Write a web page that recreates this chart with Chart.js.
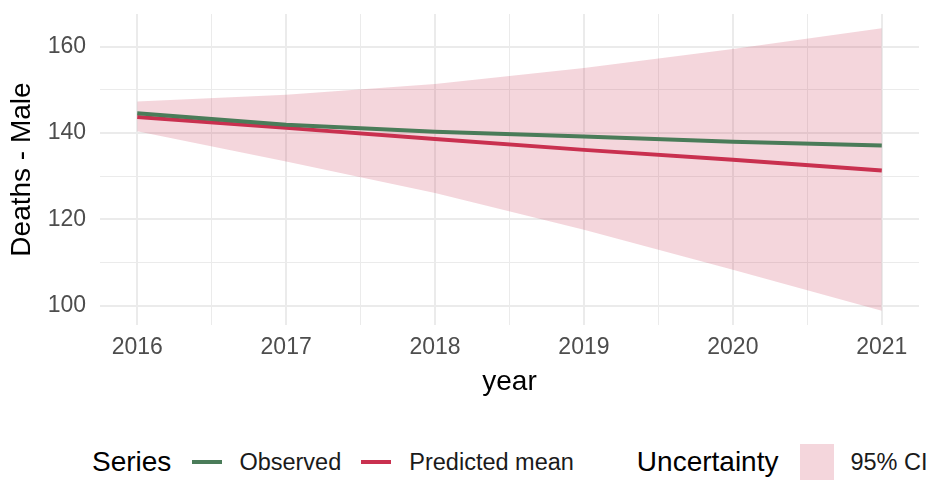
<!DOCTYPE html>
<html>
<head>
<meta charset="utf-8">
<script src="https://cdn.jsdelivr.net/npm/chart.js@4.4.0/dist/chart.umd.min.js"></script>
<style>
  body { margin: 0; background: #fff; font-family: "Liberation Sans", Arial, sans-serif; }
  #wrap { position: absolute; left: 0; top: 0; width: 933px; height: 405px; }
  #legend { position: absolute; left: 92px; top: 444px; height: 36px; display: flex; align-items: center; white-space: nowrap; }
  .ttl { font-size: 28px; color: #000; }
  .lbl { font-size: 23.5px; color: #1a1a1a; }
  .key { width: 30px; height: 4px; }
  .box { width: 34px; height: 36px; background: rgba(201, 48, 79, 0.2); }
</style>
</head>
<body>
<div id="wrap"><canvas id="chart"></canvas></div>
<div id="legend">
  <span class="ttl" style="margin-right:21px">Series</span>
  <span class="key" style="background:#4a7c59;margin-right:17px"></span>
  <span class="lbl" style="margin-right:20px">Observed</span>
  <span class="key" style="background:#c9304f;margin-right:18px"></span>
  <span class="lbl" style="margin-right:63px">Predicted mean</span>
  <span class="ttl" style="margin-right:22px">Uncertainty</span>
  <span class="box" style="margin-right:16px"></span>
  <span class="lbl">95% CI</span>
</div>
<script>
// --- data ---
const years = [2016, 2017, 2018, 2019, 2020, 2021];
const observed = [144.6, 141.9, 140.3, 139.2, 138.0, 137.1];
const predicted = [143.7, 141.2, 138.6, 136.1, 133.8, 131.3];
const ciLower = [140.4, 133.4, 126.1, 117.6, 108.3, 98.8];
const ciUpper = [147.3, 148.9, 151.4, 155.1, 159.5, 164.3];
const yTickLabels = [100, 120, 140, 160];
const yMinorTicks = [110, 130, 150];

const GREEN = "#4a7c59";
const RED = "#c9304f";
const CI_FILL = "rgba(201, 48, 79, 0.2)";
const GRID = "#ebebeb";

const pts = (ys) => years.map((x, i) => ({ x: x, y: ys[i] }));

// major grid at each year, minor grid halfway between
const xGrid = [];
years.forEach((y, i) => {
  xGrid.push(y);
  if (i < years.length - 1) xGrid.push(y + 0.5);
});
const yGrid = [...yTickLabels, ...yMinorTicks].sort((a, b) => a - b);

const ctx = document.getElementById("chart").getContext("2d");
new Chart(ctx, {
  type: "line",
  data: {
    datasets: [
      { label: "Observed", data: pts(observed), borderColor: GREEN, borderWidth: 4, pointRadius: 0, fill: false, tension: 0 },
      { label: "Predicted mean", data: pts(predicted), borderColor: RED, borderWidth: 4, pointRadius: 0, fill: false, tension: 0 },
      { label: "lower", data: pts(ciLower), borderWidth: 0, borderColor: "transparent", pointRadius: 0, fill: false },
      { label: "95% CI", data: pts(ciUpper), borderWidth: 0, borderColor: "transparent", pointRadius: 0, fill: "-1", backgroundColor: CI_FILL },
    ],
  },
  options: {
    responsive: true,
    maintainAspectRatio: false,
    animation: false,
    layout: { padding: { top: 14, right: 14, left: 0, bottom: 0 } },
    plugins: { legend: { display: false }, tooltip: { enabled: false } },
    scales: {
      x: {
        type: "linear",
        min: 2015.75,
        max: 2021.25,
        afterBuildTicks: (s) => { s.ticks = xGrid.map((v) => ({ value: v })); },
        afterFit: (s) => { s.height = 80; s.paddingLeft = 0; s.paddingRight = 0; },
        border: { display: false },
        grid: {
          drawTicks: false,
          color: GRID,
          lineWidth: (c) => (years.includes(c.tick.value) ? 2 : 1),
        },
        ticks: {
          autoSkip: false,
          maxRotation: 0,
          padding: 9,
          color: "#4d4d4d",
          font: { family: "Liberation Sans", size: 23 },
          callback: (v) => (years.includes(v) ? String(v) : ""),
        },
        title: {
          display: true,
          text: "year",
          color: "#000",
          padding: { top: 0, bottom: 6 },
          font: { family: "Liberation Sans", size: 28 },
        },
      },
      y: {
        min: 95.5,
        max: 167.6,
        afterBuildTicks: (s) => { s.ticks = yGrid.map((v) => ({ value: v })); },
        afterFit: (s) => { s.width = 100; s.paddingTop = 0; s.paddingBottom = 0; },
        border: { display: false },
        grid: {
          drawTicks: false,
          color: GRID,
          lineWidth: (c) => (yTickLabels.includes(c.tick.value) ? 2 : 1),
        },
        ticks: {
          padding: 14,
          color: "#4d4d4d",
          font: { family: "Liberation Sans", size: 23 },
          callback: (v) => (yTickLabels.includes(v) ? String(v) : ""),
        },
        title: {
          display: true,
          text: "Deaths - Male",
          color: "#000",
          padding: { top: 5, bottom: 0 },
          font: { family: "Liberation Sans", size: 28 },
        },
      },
    },
  },
});
</script>
</body>
</html>
